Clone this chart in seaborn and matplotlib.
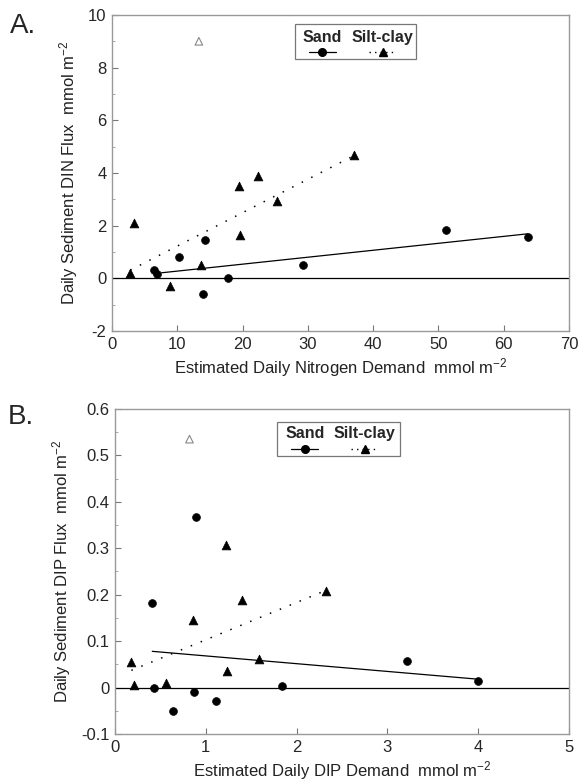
import numpy as np
import pandas as pd
import matplotlib
matplotlib.use("Agg")
import matplotlib.pyplot as plt
import seaborn as sns
from matplotlib.lines import Line2D
from matplotlib.ticker import MultipleLocator, FuncFormatter

sns.set_style("white")
plt.rcParams['font.family'] = ['Liberation Sans', 'DejaVu Sans']
plt.rcParams['mathtext.fontset'] = 'custom'
plt.rcParams['mathtext.rm'] = 'Liberation Sans'
plt.rcParams['mathtext.default'] = 'regular'

# Panel A: nitrogen
a_sand_x = [6.5, 6.95, 10.3, 14.2, 14.0, 17.8, 29.3, 51.2, 63.7]
a_sand_y = [0.33, 0.16, 0.81, 1.44, -0.61, 0.0, 0.52, 1.85, 1.55]
a_silt_x = [2.8, 3.4, 8.9, 13.6, 19.4, 19.6, 22.3, 25.3, 37.0]
a_silt_y = [0.21, 2.1, -0.3, 0.52, 3.52, 1.66, 3.87, 2.93, 4.67]
a_out_x, a_out_y = [13.3], [9.0]
a_sand_fit_x, a_sand_fit_y = [7.6, 63.7], [0.21, 1.69]
a_silt_fit_x, a_silt_fit_y = [2.8, 37.0], [0.31, 4.65]

# Panel B: phosphorus
b_sand_x = [0.41, 0.43, 0.64, 0.89, 0.87, 1.11, 1.84, 3.21, 4.0]
b_sand_y = [0.183, 0.0, -0.050, 0.368, -0.009, -0.029, 0.004, 0.058, 0.014]
b_silt_x = [0.18, 0.21, 0.56, 0.86, 1.22, 1.23, 1.40, 1.59, 2.32]
b_silt_y = [0.056, 0.006, 0.009, 0.145, 0.306, 0.035, 0.189, 0.061, 0.208]
b_out_x, b_out_y = [0.82], [0.535]
b_sand_fit_x, b_sand_fit_y = [0.41, 4.0], [0.078, 0.018]
b_silt_fit_x, b_silt_fit_y = [0.18, 2.32], [0.037, 0.209]

fig = plt.figure(figsize=(5.78, 7.83), dpi=100)
axA = fig.add_axes([0.1938, 0.5773, 0.7907, 0.4036])
axB = fig.add_axes([0.1990, 0.0626, 0.7855, 0.4151])

DOT = (0, (1, 6))


def draw_panel(ax, sx, sy, tx, ty, ox, oy, sfx, sfy, tfx, tfy,
               xlim, ylim, xmaj, ymaj, ymin, xlabel, ylabel, leg):
    ax.axhline(0, color='black', lw=0.9, zorder=1)
    sns.lineplot(x=sfx, y=sfy, ax=ax, color='black', lw=0.9, zorder=2)
    sns.lineplot(x=tfx, y=tfy, ax=ax, color='black', lw=1.1, zorder=2)
    ax.lines[-1].set_linestyle(DOT)
    sns.scatterplot(x=sx, y=sy, ax=ax, marker='o', s=32, color='black',
                    edgecolor='black', zorder=3)
    sns.scatterplot(x=tx, y=ty, ax=ax, marker='^', s=40, color='black',
                    edgecolor='black', zorder=3)
    ax.scatter(ox, oy, marker='^', s=30, facecolor='none',
               edgecolor='#888888', linewidths=0.8, zorder=3)
    ax.set_xlim(*xlim)
    ax.set_ylim(*ylim)
    ax.xaxis.set_major_locator(MultipleLocator(xmaj))
    ax.yaxis.set_major_locator(MultipleLocator(ymaj))
    ax.yaxis.set_minor_locator(MultipleLocator(ymin))
    ax.yaxis.set_major_formatter(FuncFormatter(lambda v, p: f'{v:g}'))
    ax.tick_params(axis='both', which='major', direction='in', length=4,
                   width=0.8, color='#777777', labelsize=12, pad=4,
                   left=True, bottom=True)
    ax.tick_params(axis='y', which='minor', direction='in', length=2,
                   width=0.6, color='#999999', left=True)
    for sp in ax.spines.values():
        sp.set_color('#999999')
        sp.set_linewidth(1.0)
    ax.set_xlabel(xlabel, fontsize=12, labelpad=3, color='#222222')
    ax.set_ylabel(ylabel, fontsize=12, labelpad=6, color='#222222')

    # hand-made legend box
    x0, x1, y0, y1, hs, ht, ys, yt = leg
    ax.add_patch(plt.Rectangle((x0, y0), x1 - x0, y1 - y0, transform=ax.transAxes,
                               facecolor='white', edgecolor='#777777', lw=0.9, zorder=4))
    ax.text(hs, yt, 'Sand', transform=ax.transAxes, ha='center', va='center',
            fontsize=11.5, fontweight='bold', zorder=5)
    ax.text(ht, yt, 'Silt-clay', transform=ax.transAxes, ha='center', va='center',
            fontsize=11.5, fontweight='bold', zorder=5)
    ax.add_line(Line2D([hs - 0.03, hs + 0.03], [ys, ys], transform=ax.transAxes,
                       color='black', lw=0.9, zorder=5))
    ax.add_line(Line2D([hs], [ys], transform=ax.transAxes, color='black',
                       marker='o', markersize=5.5, lw=0, zorder=5))
    ax.add_line(Line2D([ht - 0.03, ht + 0.03], [ys, ys], transform=ax.transAxes,
                       color='black', lw=1.0, linestyle=(0, (1, 3)), zorder=5))
    ax.add_line(Line2D([ht], [ys], transform=ax.transAxes, color='black',
                       marker='^', markersize=6, lw=0, zorder=5))


draw_panel(axA, a_sand_x, a_sand_y, a_silt_x, a_silt_y, a_out_x, a_out_y,
           a_sand_fit_x, a_sand_fit_y, a_silt_fit_x, a_silt_fit_y,
           (0, 70), (-2, 10), 10, 2, 1,
           'Estimated Daily Nitrogen Demand  mmol m$^{-2}$',
           'Daily Sediment DIN Flux  mmol m$^{-2}$',
           (0.40, 0.665, 0.86, 0.97, 0.46, 0.592, 0.883, 0.93))
draw_panel(axB, b_sand_x, b_sand_y, b_silt_x, b_silt_y, b_out_x, b_out_y,
           b_sand_fit_x, b_sand_fit_y, b_silt_fit_x, b_silt_fit_y,
           (0, 5), (-0.1, 0.6), 1, 0.1, 0.05,
           'Estimated Daily DIP Demand  mmol m$^{-2}$',
           'Daily Sediment DIP Flux  mmol m$^{-2}$',
           (0.357, 0.627, 0.855, 0.961, 0.418, 0.55, 0.876, 0.925))

fig.text(0.018, 0.967, 'A.', fontsize=20, va='center', ha='left')
fig.text(0.014, 0.467, 'B.', fontsize=20, va='center', ha='left')

fig.savefig('out.png', dpi=100, facecolor='white')
